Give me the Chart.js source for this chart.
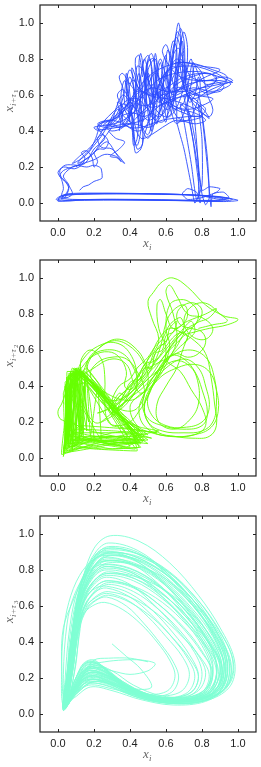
<!DOCTYPE html>
<html>
<head>
<meta charset="utf-8">
<script src="https://cdn.jsdelivr.net/npm/chart.js@4.4.1/dist/chart.umd.min.js"></script>
<style>
  html, body { margin: 0; padding: 0; background: #fff; }
  .panel { position: absolute; left: 0; width: 261px; height: 255px; }
</style>
</head>
<body>
<div class="panel" style="top:0px"><canvas id="chart1" width="261" height="255"></canvas></div>
<div class="panel" style="top:255px"><canvas id="chart2" width="261" height="255"></canvas></div>
<div class="panel" style="top:511px"><canvas id="chart3" width="261" height="255"></canvas></div>
<script>
// tick labels shared by every panel
const tickValues = [0.0, 0.2, 0.4, 0.6, 0.8, 1.0];
const axisMin = -0.1;
const axisMax = 1.1;
const yTitles = ["1", "2", "3"];

// panel 1: x_i vs x_{i+tau1}
const blueLeft = [
  [0.12,0.07],[0.14,0.09],[0.17,0.1],[0.2,0.12],[0.23,0.13],[0.245,0.14],[0.24,0.19],[0.23,0.2],[0.2,0.21],
  [0.16,0.2],[0.1,0.21],[0.04,0.21],[0.01,0.18],[0.02,0.14],[0.05,0.11],[0.07,0.08],[0.08,0.05],[0.05,0.03],
  [0.02,0.04],[0.03,0.08],[0.02,0.13],[0.0,0.17],[0.03,0.2],[0.09,0.19],[0.13,0.21],[0.15,0.25],[0.13,0.28],
  [0.16,0.29],[0.19,0.25],[0.2,0.2],[0.22,0.23],[0.2,0.28],[0.23,0.3],[0.26,0.3],[0.28,0.34],[0.25,0.38],
  [0.22,0.36],[0.24,0.31],[0.3,0.3],[0.35,0.23],[0.32,0.26],[0.26,0.27],[0.2,0.24],[0.14,0.22],[0.08,0.2],
  [0.03,0.18],[0.01,0.15],[0.04,0.12],[0.06,0.08],[0.04,0.03]
];
const blueBand = [
  [0.1,0.2],[0.15,0.24],[0.2,0.28],[0.24,0.34],[0.27,0.38],[0.3,0.42],[0.34,0.46],[0.36,0.5],[0.33,0.52],
  [0.3,0.48],[0.27,0.42],[0.24,0.37],[0.2,0.32],[0.16,0.27],[0.12,0.24],[0.08,0.22],[0.12,0.26],[0.17,0.3],
  [0.22,0.36],[0.26,0.42],[0.3,0.44],[0.34,0.42],[0.38,0.45],[0.4,0.52],[0.36,0.55],[0.3,0.5],[0.26,0.46],
  [0.23,0.42],[0.21,0.36],[0.18,0.3],[0.14,0.26],[0.11,0.22],[0.18,0.26],[0.27,0.34],[0.32,0.28],[0.37,0.22],
  [0.33,0.25],[0.29,0.26],[0.34,0.3],[0.37,0.34],[0.32,0.36],[0.28,0.4]
];
const blueBottom = [
  [0.04,0.03],[0.0,0.02],[0.02,0.04],[0.07,0.045],[0.15,0.05],[0.35,0.052],[0.55,0.05],[0.75,0.045],
  [0.9,0.035],[0.97,0.02],[0.9,0.01],[0.7,0.015],[0.45,0.02],[0.2,0.02],[0.06,0.015],[0.0,0.01],
  [0.01,0.03],[0.06,0.045],[0.2,0.05],[0.45,0.05],[0.7,0.045],[0.88,0.035],[1.0,0.015],[0.92,0.008],
  [0.7,0.013],[0.4,0.018],[0.15,0.018],[0.04,0.01],[-0.01,0.02],[0.03,0.045],[0.1,0.05],[0.3,0.053],
  [0.6,0.05],[0.82,0.04],[0.95,0.025],[0.88,0.015],[0.6,0.017],[0.3,0.02],[0.08,0.02],[0.02,0.03],
  [0.05,0.05],[0.2,0.055],[0.5,0.052],[0.72,0.046],[0.84,0.036],[0.93,0.02],[0.85,0.012],[0.6,0.014],
  [0.3,0.016],[0.1,0.015],[0.02,0.02],[0.05,0.06],[0.06,0.1],[0.03,0.15],[0.08,0.2],[0.15,0.22],
  [0.2,0.3],[0.26,0.36],[0.22,0.42],[0.25,0.45],[0.32,0.47],[0.36,0.53],[0.33,0.56],[0.35,0.5],[0.4,0.45]
];
const blueDense = [
  [0.4,0.45],[0.38,0.62],[0.4,0.7],[0.43,0.58],[0.42,0.42],[0.44,0.3],[0.47,0.33],[0.46,0.55],[0.45,0.78],
  [0.46,0.83],[0.48,0.7],[0.5,0.5],[0.52,0.4],[0.53,0.6],[0.54,0.83],[0.56,0.7],[0.58,0.5],[0.6,0.45],
  [0.62,0.62],[0.65,0.9],[0.67,1.0],[0.69,0.85],[0.7,0.65],[0.75,0.58],[0.85,0.63],[0.95,0.67],[0.97,0.67],
  [0.9,0.7],[0.78,0.73],[0.65,0.72],[0.55,0.68],[0.48,0.6],[0.42,0.55],[0.35,0.5],[0.3,0.46],[0.23,0.44],
  [0.22,0.41],[0.33,0.42],[0.42,0.44],[0.5,0.42],[0.55,0.45],[0.6,0.55],[0.63,0.75],[0.66,0.95],[0.68,0.92],
  [0.68,0.75],[0.72,0.6],[0.8,0.53],[0.84,0.47],[0.8,0.5],[0.7,0.55],[0.6,0.58],[0.5,0.6],[0.44,0.65],
  [0.4,0.74],[0.38,0.66],[0.41,0.55],[0.47,0.5],[0.52,0.56],[0.55,0.75],[0.57,0.8],[0.6,0.7],[0.64,0.6],
  [0.7,0.68],[0.72,0.85],[0.7,0.95],[0.68,0.88],[0.66,0.7],[0.62,0.52],[0.58,0.45],[0.52,0.48],[0.48,0.62],
  [0.5,0.78],[0.53,0.8],[0.55,0.62],[0.58,0.55],[0.7,0.6],[0.85,0.66],[0.93,0.68],[0.88,0.72],[0.75,0.76],
  [0.62,0.74],[0.56,0.65],[0.52,0.5],[0.48,0.38],[0.46,0.3],[0.43,0.28],[0.42,0.4],[0.4,0.55],[0.36,0.6],
  [0.32,0.52],[0.3,0.45],[0.27,0.42],[0.3,0.4],[0.36,0.42],[0.4,0.48],[0.43,0.65],[0.44,0.76],[0.47,0.74],
  [0.5,0.6],[0.56,0.5],[0.62,0.48],[0.68,0.58],[0.72,0.75],[0.74,0.8],[0.76,0.7],[0.8,0.62],[0.9,0.62],
  [0.92,0.65],[0.85,0.68],[0.72,0.66],[0.64,0.62],[0.6,0.66],[0.62,0.8],[0.64,0.9],[0.66,0.85],[0.65,0.68],
  [0.6,0.52],[0.56,0.48],[0.5,0.52],[0.44,0.58],[0.37,0.56],[0.34,0.48],[0.38,0.43],[0.45,0.4],[0.5,0.45],
  [0.52,0.7],[0.51,0.8],[0.49,0.76],[0.5,0.62],[0.57,0.6],[0.7,0.64],[0.82,0.7],[0.9,0.74],[0.8,0.76],
  [0.66,0.78],[0.6,0.72],[0.58,0.6],[0.62,0.55],[0.72,0.52],[0.82,0.55],[0.86,0.58],[0.76,0.6],[0.66,0.64],
  [0.66,0.5]
];
const blueDense2 = [
  [0.45,0.42],[0.43,0.6],[0.45,0.72],[0.47,0.6],[0.46,0.45],[0.5,0.38],[0.53,0.5],[0.55,0.7],[0.57,0.78],
  [0.59,0.62],[0.6,0.48],[0.63,0.5],[0.65,0.7],[0.66,0.88],[0.68,0.97],[0.7,0.9],[0.71,0.72],[0.74,0.62],
  [0.82,0.6],[0.9,0.64],[0.94,0.7],[0.86,0.74],[0.72,0.78],[0.6,0.76],[0.5,0.7],[0.42,0.6],[0.36,0.52],
  [0.3,0.47],[0.25,0.43],[0.31,0.44],[0.38,0.47],[0.43,0.52],[0.46,0.7],[0.48,0.8],[0.5,0.72],[0.51,0.55],
  [0.54,0.46],[0.57,0.52],[0.59,0.72],[0.61,0.85],[0.63,0.78],[0.62,0.6],[0.65,0.52],[0.7,0.56],[0.73,0.7],
  [0.75,0.78],[0.78,0.72],[0.82,0.66],[0.88,0.68],[0.84,0.72],[0.74,0.7],[0.66,0.66],[0.6,0.6],[0.56,0.56],
  [0.52,0.62],[0.49,0.72],[0.47,0.65],[0.45,0.5],[0.44,0.36],[0.42,0.32],[0.41,0.42],[0.38,0.5],[0.35,0.55],
  [0.33,0.6],[0.36,0.63],[0.4,0.58],[0.48,0.54],[0.56,0.58],[0.64,0.7],[0.68,0.8],[0.7,0.75],[0.72,0.62],
  [0.78,0.56],[0.82,0.52],[0.78,0.48],[0.7,0.5],[0.62,0.54],[0.55,0.6],[0.5,0.68],[0.47,0.76],[0.5,0.82],
  [0.52,0.76],[0.54,0.64],[0.58,0.58],[0.66,0.6],[0.75,0.64],[0.86,0.62],[0.96,0.66],[0.9,0.68],[0.78,0.68],
  [0.68,0.7],[0.62,0.76],[0.58,0.84],[0.6,0.88],[0.62,0.82],[0.64,0.66],[0.68,0.62],[0.7,0.72],[0.66,0.8],
  [0.6,0.7],[0.54,0.55],[0.5,0.48],[0.44,0.45],[0.38,0.44],[0.32,0.43],[0.26,0.42],[0.22,0.44],[0.28,0.46],
  [0.34,0.45],[0.4,0.42],[0.46,0.42],[0.52,0.44],[0.58,0.46],[0.64,0.47],[0.72,0.48],[0.8,0.48],[0.74,0.46],
  [0.66,0.45]
];
const blueDense3 = [
  [0.36,0.45],[0.35,0.6],[0.37,0.68],[0.39,0.6],[0.4,0.48],[0.42,0.62],[0.41,0.75],[0.43,0.7],[0.44,0.55],
  [0.47,0.45],[0.49,0.58],[0.5,0.72],[0.52,0.66],[0.53,0.52],[0.55,0.44],[0.57,0.6],[0.58,0.76],[0.6,0.82],
  [0.61,0.68],[0.63,0.56],[0.66,0.62],[0.67,0.8],[0.69,0.9],[0.7,0.8],[0.71,0.66],[0.73,0.56],[0.76,0.6],
  [0.78,0.7],[0.79,0.64],[0.76,0.52],[0.72,0.46],[0.66,0.48],[0.62,0.58],[0.58,0.66],[0.54,0.72],[0.5,0.66],
  [0.46,0.58],[0.42,0.5],[0.38,0.52],[0.36,0.64],[0.34,0.7],[0.36,0.72],[0.4,0.66],[0.44,0.62],[0.48,0.66],
  [0.5,0.8],[0.52,0.83],[0.54,0.76],[0.56,0.6],[0.6,0.52],[0.64,0.55],[0.66,0.68],[0.68,0.84],[0.66,0.92],
  [0.64,0.86],[0.62,0.72],[0.6,0.62],[0.56,0.68],[0.54,0.8],[0.5,0.74],[0.48,0.56],[0.46,0.4],[0.44,0.32],
  [0.42,0.36],[0.4,0.6],[0.38,0.72],[0.37,0.62],[0.33,0.5],[0.28,0.44],[0.2,0.42],[0.24,0.4],[0.32,0.46],
  [0.4,0.56],[0.46,0.62],[0.52,0.6],[0.6,0.64],[0.7,0.7],[0.8,0.72],[0.88,0.7],[0.84,0.64],[0.74,0.6],
  [0.64,0.58],[0.56,0.54],[0.5,0.54],[0.44,0.7],[0.43,0.8],[0.45,0.82],[0.47,0.7]
];
const blueDense4 = [
  [0.34,0.4],[0.36,0.5],[0.4,0.56],[0.44,0.5],[0.47,0.4],[0.5,0.36],[0.53,0.42],[0.55,0.56],[0.56,0.66],
  [0.6,0.6],[0.63,0.5],[0.66,0.44],[0.7,0.5],[0.74,0.66],[0.76,0.76],[0.8,0.72],[0.83,0.6],[0.86,0.52],
  [0.84,0.48],[0.78,0.52],[0.72,0.6],[0.68,0.7],[0.64,0.76],[0.58,0.7],[0.54,0.6],[0.5,0.54],[0.46,0.5],
  [0.4,0.44],[0.34,0.42],[0.28,0.44],[0.34,0.48],[0.42,0.5],[0.48,0.48],[0.54,0.52],[0.6,0.56],[0.68,0.52],
  [0.76,0.5],[0.82,0.46],[0.76,0.44],[0.66,0.46],[0.58,0.42],[0.52,0.38],[0.46,0.36],[0.42,0.46],[0.39,0.58],
  [0.41,0.68],[0.44,0.66],[0.46,0.52],[0.5,0.46],[0.56,0.5],[0.62,0.66],[0.64,0.82],[0.67,0.86],[0.7,0.78],
  [0.74,0.7],[0.82,0.68],[0.92,0.7],[0.97,0.68],[0.9,0.66],[0.8,0.64],[0.7,0.62],[0.6,0.62],[0.52,0.64],
  [0.46,0.6],[0.4,0.5],[0.36,0.44]
];
const blueDrops = [
  [0.66,0.5],[0.66,0.45],[0.7,0.3],[0.74,0.1],[0.76,0.0],[0.78,0.04],[0.78,0.2],[0.76,0.45],[0.74,0.58],
  [0.7,0.6],[0.72,0.5],[0.76,0.3],[0.8,0.05],[0.82,-0.01],[0.84,0.03],[0.83,0.25],[0.8,0.5],[0.78,0.6],
  [0.74,0.62],[0.72,0.55],[0.75,0.35],[0.78,0.12],[0.79,0.0],[0.77,0.06],[0.72,0.08],[0.69,0.05],[0.72,0.02],
  [0.8,0.03],[0.88,0.06],[0.9,0.08],[0.84,0.09],[0.8,0.07],[0.77,0.3],[0.73,0.5],[0.68,0.55],[0.7,0.45],
  [0.74,0.22],[0.77,0.02],[0.8,0.1],[0.8,0.35],[0.78,0.55],[0.8,0.48],[0.83,0.2],[0.85,-0.02],[0.86,0.05],
  [0.92,0.06],[0.95,0.03],[0.9,0.02],[0.8,0.04]
];

// panel 2: x_i vs x_{i+tau2}
const greenTriangle = [
  [0.03,0.02],[0.06,0.3],[0.1,0.48],[0.25,0.3],[0.44,0.1],[0.2,0.12],[0.04,0.05],[0.05,0.42],[0.12,0.5],
  [0.3,0.28],[0.46,0.08],[0.25,0.09],[0.05,0.04],[0.08,0.45],[0.14,0.47],[0.28,0.3],[0.42,0.15],[0.3,0.14],
  [0.06,0.08],[0.04,0.38],[0.09,0.5],[0.22,0.36],[0.4,0.06],[0.15,0.1],[0.03,0.03],[0.07,0.35],[0.13,0.46],
  [0.26,0.32],[0.45,0.12],[0.35,0.1],[0.08,0.1],[0.06,0.47],[0.16,0.44],[0.32,0.25],[0.48,0.1],[0.28,0.12],
  [0.04,0.06],[0.05,0.28],[0.11,0.49],[0.24,0.33],[0.43,0.05],[0.2,0.08],[0.02,0.02],[0.04,0.22],[0.07,0.42],
  [0.11,0.47],[0.2,0.38],[0.34,0.22],[0.46,0.11],[0.38,0.06],[0.12,0.12],[0.05,0.08],[0.06,0.34],[0.09,0.49],
  [0.15,0.46],[0.27,0.31],[0.41,0.16],[0.48,0.1],[0.3,0.07],[0.08,0.14],[0.04,0.3],[0.05,0.45],[0.13,0.48],
  [0.23,0.37],[0.36,0.2],[0.44,0.08],[0.22,0.1],[0.06,0.06],[0.07,0.25],[0.1,0.44],[0.16,0.5],[0.29,0.33],
  [0.4,0.19],[0.5,0.13],[0.32,0.15],[0.1,0.16],[0.04,0.1],[0.03,0.36],[0.08,0.5],[0.18,0.42],[0.31,0.27],
  [0.43,0.14],[0.35,0.1],[0.14,0.08],[0.05,0.03],[0.06,0.28],[0.12,0.45],[0.19,0.4],[0.26,0.33],[0.39,0.12],
  [0.46,0.06],[0.25,0.05],[0.09,0.07],[0.05,0.18],[0.04,0.4],[0.1,0.5],[0.21,0.4],[0.33,0.24],[0.45,0.17],
  [0.42,0.1],[0.18,0.15],[0.07,0.2],[0.06,0.46],[0.14,0.44],[0.24,0.35],[0.37,0.18],[0.5,0.1],[0.28,0.1],
  [0.07,0.1],[0.03,0.05],[0.08,0.18],[0.1,0.4],[0.15,0.42],[0.3,0.18],[0.55,0.14],[0.4,0.16],[0.12,0.18],
  [0.06,0.12],[0.09,0.3],[0.1,0.46]
];
const greenTriangle2 = [
  [0.04,0.08],[0.06,0.44],[0.12,0.48],[0.26,0.34],[0.44,0.12],[0.36,0.12],[0.07,0.12],[0.05,0.32],[0.08,0.47],
  [0.17,0.44],[0.3,0.3],[0.47,0.14],[0.4,0.08],[0.1,0.11],[0.04,0.04],[0.07,0.38],[0.1,0.49],[0.22,0.39],
  [0.35,0.23],[0.45,0.09],[0.28,0.08],[0.08,0.05],[0.05,0.25],[0.09,0.46],[0.15,0.48],[0.27,0.35],[0.38,0.2],
  [0.46,0.15],[0.33,0.12],[0.06,0.1],[0.04,0.42],[0.11,0.5],[0.2,0.41],[0.32,0.26],[0.44,0.16],[0.48,0.12],
  [0.22,0.06],[0.03,0.03],[0.06,0.2],[0.08,0.4],[0.13,0.47],[0.25,0.36],[0.39,0.18],[0.45,0.06],[0.3,0.05],
  [0.1,0.09],[0.07,0.3],[0.07,0.48],[0.14,0.46],[0.23,0.38],[0.34,0.25],[0.46,0.13],[0.52,0.11],[0.36,0.14],
  [0.12,0.14],[0.05,0.14],[0.05,0.36],[0.09,0.47],[0.19,0.43],[0.29,0.31],[0.41,0.15],[0.44,0.04],[0.2,0.05],
  [0.05,0.07],[0.08,0.35],[0.12,0.49],[0.24,0.37],[0.37,0.21],[0.47,0.09],[0.34,0.07],[0.09,0.12],[0.06,0.22],
  [0.05,0.48],[0.16,0.47],[0.28,0.33],[0.42,0.13],[0.5,0.08],[0.26,0.11],[0.07,0.15],[0.04,0.34],[0.1,0.45],
  [0.18,0.38],[0.33,0.22],[0.46,0.17],[0.56,0.15],[0.4,0.12],[0.15,0.12],[0.06,0.04],[0.08,0.05],[0.1,0.45],
  [0.12,0.1],[0.13,0.48],[0.14,0.12],[0.09,0.42],[0.11,0.08],[0.15,0.44],[0.13,0.15],[0.07,0.46],[0.06,0.08],
  [0.2,0.1],[0.16,0.45],[0.18,0.12],[0.22,0.4],[0.24,0.1],[0.12,0.3],[0.06,0.05]
];
const greenLeft = [
  [0.04,0.05],[0.05,0.45],[0.06,0.06],[0.07,0.47],[0.08,0.04],[0.09,0.48],[0.1,0.07],[0.11,0.46],[0.12,0.1],
  [0.12,0.49],[0.13,0.12],[0.08,0.44],[0.05,0.1],[0.04,0.4],[0.07,0.08],[0.1,0.5],[0.14,0.14],[0.15,0.46],
  [0.16,0.15],[0.11,0.42],[0.06,0.12],[0.05,0.38],[0.09,0.06],[0.13,0.45],[0.17,0.2],[0.14,0.4],[0.08,0.1]
];
const greenArcs = [
  [0.14,0.48],[0.18,0.56],[0.26,0.6],[0.36,0.58],[0.42,0.5],[0.44,0.42],[0.4,0.36],[0.3,0.32],[0.2,0.4],
  [0.16,0.48],[0.2,0.58],[0.3,0.65],[0.4,0.62],[0.48,0.52],[0.5,0.42],[0.46,0.35],[0.38,0.32],[0.24,0.38],
  [0.18,0.46],[0.22,0.53],[0.3,0.56],[0.38,0.55],[0.44,0.48],[0.48,0.38],[0.46,0.3],[0.4,0.26],[0.3,0.3],
  [0.22,0.42],[0.16,0.52],[0.24,0.62],[0.34,0.66],[0.44,0.6],[0.5,0.5]
];
const greenBand = [
  [0.28,0.26],[0.34,0.36],[0.38,0.34],[0.42,0.42],[0.46,0.44],[0.48,0.5],[0.52,0.5],[0.54,0.58],[0.58,0.6],
  [0.6,0.68],[0.64,0.7],[0.66,0.76],[0.62,0.72],[0.6,0.64],[0.56,0.62],[0.52,0.54],[0.48,0.52],[0.44,0.44],
  [0.4,0.42],[0.36,0.34],[0.32,0.3],[0.3,0.32],[0.34,0.4],[0.4,0.44],[0.44,0.5],[0.5,0.56],[0.54,0.62],
  [0.58,0.66],[0.62,0.74],[0.68,0.78],[0.7,0.72],[0.66,0.66],[0.6,0.58],[0.56,0.52],[0.52,0.46],[0.46,0.4],
  [0.42,0.36],[0.36,0.3],[0.3,0.24],[0.33,0.33],[0.38,0.38],[0.45,0.46],[0.5,0.52],[0.55,0.55],[0.6,0.62],
  [0.65,0.68],[0.7,0.7],[0.72,0.66],[0.68,0.62],[0.62,0.56],[0.57,0.5],[0.5,0.44],[0.44,0.38],[0.38,0.3],
  [0.33,0.26],[0.37,0.36],[0.43,0.42],[0.48,0.46],[0.53,0.52],[0.58,0.58],[0.63,0.64],[0.68,0.7],[0.74,0.76],
  [0.76,0.7],[0.7,0.64]
];
const greenLoops = [
  [0.1,0.46],[0.14,0.55],[0.22,0.62],[0.32,0.64],[0.4,0.58],[0.44,0.45],[0.42,0.35],[0.36,0.3],[0.3,0.26],
  [0.35,0.32],[0.42,0.4],[0.48,0.48],[0.5,0.55],[0.55,0.6],[0.6,0.65],[0.64,0.7],[0.7,0.75],[0.72,0.8],
  [0.7,0.85],[0.64,0.82],[0.6,0.75],[0.57,0.62],[0.52,0.5],[0.47,0.42],[0.4,0.36],[0.35,0.28],[0.28,0.22],
  [0.2,0.2],[0.12,0.35],[0.1,0.44],[0.13,0.5],[0.2,0.57],[0.28,0.59],[0.34,0.56],[0.38,0.48],[0.37,0.4],
  [0.4,0.38],[0.45,0.42],[0.5,0.5],[0.53,0.58],[0.56,0.66],[0.52,0.78],[0.5,0.87],[0.53,0.92],[0.58,0.98],
  [0.64,1.0],[0.72,0.95],[0.82,0.85],[0.92,0.79],[1.0,0.77],[0.94,0.74],[0.84,0.72],[0.76,0.7],[0.7,0.68],
  [0.66,0.62],[0.62,0.56],[0.58,0.48],[0.54,0.42],[0.5,0.35],[0.48,0.28],[0.5,0.2],[0.56,0.14],[0.65,0.12],
  [0.75,0.11],[0.84,0.12],[0.88,0.18],[0.87,0.3],[0.85,0.45],[0.82,0.58],[0.76,0.65],[0.68,0.7],[0.62,0.72],
  [0.56,0.66],[0.52,0.58],[0.47,0.5],[0.43,0.44],[0.38,0.38],[0.33,0.33],[0.27,0.27],[0.22,0.25],[0.3,0.28],
  [0.38,0.34],[0.44,0.4],[0.5,0.47],[0.56,0.53],[0.62,0.6],[0.68,0.66],[0.72,0.72],[0.78,0.76],[0.8,0.82],
  [0.76,0.86],[0.7,0.85],[0.66,0.8],[0.68,0.74],[0.74,0.72],[0.8,0.7],[0.82,0.64],[0.78,0.58],[0.72,0.56],
  [0.66,0.58],[0.6,0.55],[0.55,0.48],[0.5,0.4],[0.47,0.3],[0.5,0.22],[0.58,0.18],[0.7,0.16],[0.8,0.18],
  [0.83,0.25],[0.8,0.38],[0.76,0.48],[0.7,0.55],[0.63,0.57],[0.58,0.52],[0.54,0.44],[0.5,0.34],[0.45,0.26],
  [0.4,0.2],[0.33,0.18],[0.28,0.2],[0.26,0.3],[0.26,0.45],[0.24,0.55],[0.18,0.6],[0.13,0.55],[0.12,0.47],
  [0.06,0.4],[0.02,0.3],[0.0,0.26],[0.01,0.22],[0.04,0.2],[0.06,0.14],[0.04,0.06],[0.03,0.01],[0.06,0.2],
  [0.1,0.42],[0.2,0.5],[0.3,0.55],[0.38,0.52],[0.42,0.42],[0.46,0.36],[0.52,0.42],[0.58,0.5],[0.62,0.62],
  [0.6,0.72],[0.62,0.85],[0.68,0.88],[0.74,0.86],[0.78,0.8],[0.76,0.74],[0.7,0.7],[0.64,0.64],[0.6,0.55],
  [0.68,0.48],[0.74,0.38],[0.8,0.28],[0.82,0.18],[0.76,0.13],[0.64,0.12],[0.52,0.14],[0.44,0.18],[0.4,0.28],
  [0.44,0.34],[0.5,0.38],[0.56,0.46],[0.6,0.6],[0.56,0.72],[0.55,0.85],[0.57,0.88],[0.6,0.8],[0.64,0.72],
  [0.72,0.76],[0.82,0.8],[0.88,0.83],[0.84,0.78],[0.76,0.74],[0.7,0.62],[0.66,0.5],[0.6,0.4],[0.55,0.3],
  [0.56,0.2],[0.64,0.16],[0.72,0.2],[0.78,0.3],[0.77,0.45],[0.72,0.52],[0.65,0.54],[0.58,0.5],[0.52,0.44],
  [0.46,0.38],[0.38,0.32],[0.3,0.25],[0.24,0.2]
];
const greenRight = [
  [0.5,0.5],[0.6,0.55],[0.72,0.6],[0.82,0.56],[0.87,0.44],[0.88,0.3],[0.86,0.2],[0.8,0.15],[0.7,0.14],
  [0.58,0.15],[0.5,0.2],[0.48,0.3],[0.52,0.4],[0.6,0.5],[0.7,0.55],[0.78,0.5],[0.82,0.4],[0.84,0.28],
  [0.8,0.2],[0.7,0.17],[0.6,0.18],[0.52,0.24],[0.5,0.34],[0.56,0.44],[0.66,0.5],[0.76,0.52],[0.84,0.48],
  [0.88,0.38],[0.89,0.26],[0.85,0.17],[0.76,0.13],[0.62,0.12],[0.5,0.16],[0.45,0.25],[0.48,0.36],[0.55,0.48],
  [0.62,0.56],[0.66,0.66],[0.64,0.8],[0.6,0.92],[0.62,0.96],[0.66,0.9],[0.72,0.8],[0.8,0.78],[0.86,0.72],
  [0.82,0.66],[0.74,0.68],[0.7,0.76],[0.74,0.84],[0.82,0.86],[0.9,0.8],[0.94,0.76],[0.86,0.74],[0.78,0.72]
];

// panel 3: x_i vs x_{i+tau3}
const aquaLoops = [
  [0.3,0.39],[0.38,0.32],[0.46,0.25],[0.52,0.15],[0.42,0.14],[0.28,0.18],[0.16,0.19],[0.08,0.1],
  [0.03,0.03],[0.05,0.2],[0.08,0.45],[0.13,0.72],[0.2,0.92],[0.29,0.99],[0.45,0.96],[0.62,0.84],[0.78,0.66],[0.9,0.48],[0.98,0.3],[0.96,0.16],[0.84,0.08],[0.62,0.06],[0.42,0.1],[0.26,0.16],[0.15,0.17],[0.08,0.1],
  [0.04,0.05],[0.06,0.24],[0.09,0.48],[0.14,0.72],[0.21,0.88],[0.28,0.93],[0.44,0.9],[0.6,0.78],[0.74,0.62],[0.86,0.45],[0.93,0.3],[0.91,0.16],[0.8,0.09],[0.6,0.07],[0.42,0.12],[0.28,0.2],[0.16,0.22],[0.1,0.14],
  [0.05,0.06],[0.07,0.26],[0.1,0.5],[0.15,0.7],[0.22,0.84],[0.3,0.88],[0.45,0.84],[0.6,0.72],[0.73,0.57],[0.84,0.42],[0.9,0.28],[0.87,0.15],[0.76,0.08],[0.58,0.08],[0.4,0.14],[0.26,0.22],[0.17,0.24],[0.1,0.16],
  [0.03,0.02],[0.06,0.22],[0.09,0.45],[0.13,0.64],[0.2,0.78],[0.27,0.82],[0.42,0.78],[0.56,0.67],[0.7,0.52],[0.8,0.38],[0.85,0.25],[0.82,0.13],[0.7,0.07],[0.52,0.08],[0.36,0.15],[0.24,0.2],[0.15,0.2],[0.08,0.12],
  [0.04,0.04],[0.07,0.25],[0.1,0.46],[0.14,0.62],[0.2,0.72],[0.27,0.76],[0.4,0.72],[0.54,0.6],[0.66,0.47],[0.76,0.34],[0.8,0.22],[0.76,0.12],[0.64,0.08],[0.48,0.1],[0.34,0.18],[0.22,0.26],[0.14,0.24],[0.08,0.14],
  [0.05,0.05],[0.08,0.27],[0.11,0.48],[0.15,0.61],[0.21,0.68],[0.27,0.7],[0.4,0.65],[0.52,0.55],[0.63,0.43],[0.72,0.31],[0.76,0.21],[0.72,0.12],[0.6,0.09],[0.45,0.12],[0.32,0.2],[0.21,0.28],[0.14,0.26],[0.09,0.16],
  [0.06,0.08],[0.09,0.3],[0.12,0.48],[0.16,0.58],[0.21,0.63],[0.27,0.65],[0.38,0.6],[0.48,0.5],[0.57,0.39],[0.64,0.29],[0.67,0.2],[0.63,0.12],[0.52,0.1],[0.4,0.14],[0.29,0.22],[0.2,0.29],[0.14,0.27],[0.09,0.18],
  [0.03,0.03],[0.05,0.22],[0.07,0.46],[0.12,0.7],[0.19,0.86],[0.27,0.91],[0.44,0.89],[0.62,0.79],[0.78,0.63],[0.9,0.46],[0.97,0.3],[0.95,0.17],[0.85,0.1],[0.66,0.08],[0.46,0.1],[0.3,0.14],[0.17,0.16],[0.09,0.1],
  [0.04,0.04],[0.06,0.24],[0.08,0.47],[0.12,0.67],[0.19,0.81],[0.26,0.86],[0.42,0.84],[0.6,0.74],[0.76,0.59],[0.88,0.43],[0.94,0.28],[0.92,0.15],[0.82,0.08],[0.62,0.07],[0.44,0.11],[0.3,0.17],[0.18,0.19],[0.1,0.12],
  [0.03,0.03],[0.06,0.23],[0.09,0.46],[0.13,0.63],[0.19,0.75],[0.26,0.8],[0.42,0.77],[0.58,0.67],[0.72,0.53],[0.84,0.39],[0.9,0.26],[0.88,0.14],[0.78,0.08],[0.6,0.08],[0.42,0.13],[0.28,0.2],[0.17,0.23],[0.1,0.15]
];
const aquaLoopsB = [
  [0.05,0.05],[0.08,0.26],[0.1,0.5],[0.14,0.72],[0.2,0.85],[0.25,0.9],[0.4,0.87],[0.56,0.75],[0.7,0.6],[0.81,0.44],[0.88,0.29],[0.86,0.16],[0.76,0.1],[0.58,0.1],[0.42,0.16],[0.3,0.24],[0.2,0.27],[0.12,0.18],
  [0.04,0.03],[0.06,0.22],[0.08,0.44],[0.12,0.64],[0.2,0.79],[0.28,0.84],[0.46,0.82],[0.64,0.72],[0.8,0.56],[0.9,0.41],[0.96,0.27],[0.94,0.15],[0.84,0.09],[0.66,0.07],[0.48,0.1],[0.34,0.15],[0.2,0.18],[0.11,0.12],
  [0.05,0.06],[0.08,0.28],[0.1,0.48],[0.14,0.62],[0.2,0.7],[0.27,0.74],[0.42,0.71],[0.58,0.62],[0.72,0.49],[0.83,0.36],[0.88,0.24],[0.85,0.13],[0.74,0.08],[0.56,0.09],[0.4,0.15],[0.27,0.23],[0.17,0.25],[0.1,0.16],
  [0.06,0.06],[0.09,0.3],[0.12,0.5],[0.16,0.6],[0.22,0.66],[0.28,0.68],[0.42,0.64],[0.56,0.55],[0.68,0.44],[0.78,0.33],[0.84,0.22],[0.8,0.12],[0.68,0.08],[0.52,0.1],[0.38,0.16],[0.26,0.25],[0.18,0.27],[0.11,0.18],
  [0.04,0.04],[0.06,0.25],[0.09,0.5],[0.14,0.76],[0.21,0.9],[0.28,0.95],[0.44,0.91],[0.6,0.79],[0.74,0.63],[0.85,0.46],[0.92,0.3],[0.9,0.17],[0.8,0.1],[0.6,0.08],[0.44,0.12],[0.3,0.19],[0.18,0.21],[0.1,0.13],
  [0.03,0.02],[0.05,0.2],[0.08,0.42],[0.12,0.6],[0.19,0.73],[0.27,0.78],[0.44,0.76],[0.62,0.67],[0.77,0.53],[0.88,0.38],[0.93,0.25],[0.9,0.13],[0.8,0.07],[0.62,0.06],[0.44,0.1],[0.3,0.16],[0.18,0.19],[0.09,0.1],
  [0.05,0.05],[0.08,0.27],[0.11,0.47],[0.15,0.6],[0.21,0.68],[0.28,0.72],[0.42,0.68],[0.56,0.58],[0.68,0.46],[0.77,0.34],[0.82,0.23],[0.78,0.13],[0.66,0.09],[0.5,0.11],[0.36,0.18],[0.24,0.27],[0.16,0.28],[0.1,0.17],
  [0.04,0.05],[0.07,0.25],[0.1,0.48],[0.14,0.69],[0.2,0.82],[0.26,0.87],[0.4,0.84],[0.55,0.73],[0.68,0.59],[0.79,0.43],[0.86,0.28],[0.83,0.15],[0.72,0.09],[0.55,0.09],[0.4,0.15],[0.28,0.23],[0.18,0.26],[0.11,0.17],
  [0.03,0.03],[0.05,0.21],[0.08,0.46],[0.12,0.7],[0.19,0.86],[0.26,0.92],[0.42,0.9],[0.6,0.8],[0.76,0.64],[0.88,0.46],[0.95,0.3],[0.93,0.15],[0.82,0.07],[0.64,0.05],[0.46,0.08],[0.3,0.13],[0.18,0.15],[0.09,0.09],
  [0.06,0.07],[0.09,0.3],[0.12,0.5],[0.16,0.59],[0.22,0.64],[0.28,0.66],[0.4,0.62],[0.53,0.53],[0.64,0.42],[0.73,0.31],[0.78,0.21],[0.74,0.12],[0.62,0.09],[0.47,0.11],[0.34,0.18],[0.23,0.28],[0.16,0.29],[0.1,0.2],
  [0.04,0.04],[0.02,0.3],[0.03,0.48],[0.08,0.62],[0.16,0.78],[0.25,0.85],[0.42,0.83],[0.6,0.72],[0.74,0.58],[0.85,0.42],[0.91,0.27],[0.88,0.14],[0.77,0.08],[0.58,0.07],[0.4,0.12],[0.26,0.19],[0.16,0.21],[0.07,0.08]
];
const aquaLoopsC = [
  [0.04,0.06],[0.06,0.26],[0.09,0.5],[0.13,0.7],[0.2,0.84],[0.27,0.89],[0.43,0.86],[0.6,0.76],[0.75,0.6],[0.87,0.44],[0.93,0.29],[0.91,0.15],[0.8,0.08],[0.61,0.07],[0.43,0.11],[0.29,0.18],[0.18,0.21],[0.1,0.14],
  [0.03,0.04],[0.05,0.23],[0.08,0.47],[0.12,0.69],[0.19,0.84],[0.27,0.9],[0.44,0.87],[0.61,0.77],[0.77,0.61],[0.89,0.44],[0.96,0.29],[0.94,0.16],[0.83,0.08],[0.64,0.06],[0.45,0.09],[0.3,0.15],[0.18,0.17],[0.09,0.11],
  [0.05,0.05],[0.07,0.26],[0.1,0.48],[0.14,0.66],[0.2,0.77],[0.27,0.81],[0.42,0.78],[0.57,0.68],[0.71,0.54],[0.82,0.4],[0.88,0.27],[0.85,0.14],[0.75,0.09],[0.57,0.09],[0.4,0.14],[0.27,0.22],[0.17,0.24],[0.1,0.15],
  [0.04,0.03],[0.07,0.24],[0.1,0.47],[0.14,0.63],[0.2,0.73],[0.27,0.77],[0.42,0.74],[0.58,0.64],[0.72,0.51],[0.83,0.37],[0.89,0.25],[0.86,0.13],[0.75,0.08],[0.57,0.08],[0.41,0.13],[0.28,0.21],[0.17,0.24],[0.1,0.15],
  [0.05,0.06],[0.08,0.28],[0.11,0.49],[0.15,0.63],[0.21,0.71],[0.28,0.74],[0.43,0.7],[0.57,0.6],[0.7,0.48],[0.8,0.35],[0.85,0.24],[0.82,0.14],[0.7,0.09],[0.53,0.1],[0.38,0.16],[0.25,0.24],[0.16,0.26],[0.1,0.17],
  [0.03,0.02],[0.05,0.22],[0.08,0.46],[0.12,0.68],[0.18,0.83],[0.26,0.89],[0.43,0.88],[0.61,0.79],[0.77,0.64],[0.89,0.47],[0.97,0.31],[0.96,0.18],[0.86,0.1],[0.67,0.08],[0.48,0.11],[0.32,0.16],[0.19,0.18],[0.1,0.11],
  [0.06,0.07],[0.09,0.29],[0.11,0.5],[0.15,0.64],[0.21,0.7],[0.27,0.71],[0.4,0.67],[0.53,0.57],[0.64,0.45],[0.73,0.33],[0.78,0.22],[0.75,0.13],[0.64,0.09],[0.5,0.11],[0.36,0.18],[0.24,0.26],[0.16,0.27],[0.1,0.18],
  [0.04,0.04],[0.06,0.25],[0.09,0.48],[0.13,0.66],[0.2,0.8],[0.27,0.85],[0.43,0.82],[0.59,0.72],[0.74,0.57],[0.85,0.42],[0.91,0.28],[0.89,0.15],[0.79,0.09],[0.6,0.08],[0.43,0.12],[0.29,0.19],[0.18,0.22],[0.1,0.14],
  [0.05,0.05],[0.07,0.26],[0.1,0.49],[0.14,0.68],[0.21,0.8],[0.28,0.83],[0.44,0.79],[0.6,0.68],[0.74,0.54],[0.84,0.4],[0.9,0.27],[0.87,0.15],[0.77,0.09],[0.59,0.09],[0.42,0.14],[0.28,0.21],[0.17,0.23],[0.1,0.15],
  [0.04,0.04],[0.06,0.24],[0.09,0.47],[0.13,0.69],[0.2,0.86],[0.28,0.92],[0.44,0.89],[0.61,0.78],[0.76,0.62],[0.87,0.45],[0.94,0.3],[0.92,0.16],[0.81,0.09],[0.62,0.07],[0.44,0.11],[0.29,0.17],[0.17,0.19],[0.09,0.11],
  [0.05,0.06],[0.08,0.27],[0.11,0.48],[0.15,0.65],[0.21,0.75],[0.28,0.79],[0.43,0.75],[0.58,0.65],[0.71,0.52],[0.81,0.38],[0.86,0.25],[0.83,0.13],[0.72,0.08],[0.55,0.09],[0.39,0.15],[0.26,0.23],[0.16,0.25],[0.09,0.15],
  [0.04,0.03],[0.06,0.23],[0.09,0.46],[0.13,0.67],[0.2,0.82],[0.27,0.88],[0.44,0.86],[0.62,0.76],[0.78,0.6],[0.9,0.44],[0.95,0.29],[0.93,0.15],[0.82,0.08],[0.63,0.06],[0.44,0.1],[0.29,0.16],[0.17,0.18],[0.08,0.1]
];
const aquaLoopsD = [
  [0.07,0.1],[0.1,0.3],[0.12,0.45],[0.14,0.55],[0.19,0.6],[0.26,0.62],[0.36,0.58],[0.46,0.5],[0.55,0.4],[0.62,0.3],[0.65,0.21],[0.61,0.13],[0.5,0.11],[0.38,0.15],[0.28,0.23],[0.2,0.3],[0.14,0.28],[0.1,0.2],
  [0.03,0.05],[0.02,0.25],[0.03,0.45],[0.06,0.62],[0.12,0.77],[0.2,0.86],[0.3,0.9],[0.46,0.86],[0.63,0.75],[0.78,0.6],[0.89,0.44],[0.94,0.28],[0.91,0.14],[0.8,0.07],[0.6,0.06],[0.42,0.1],[0.28,0.17],[0.16,0.19],[0.08,0.1],
  [0.04,0.04],[0.03,0.22],[0.05,0.5],[0.09,0.66],[0.16,0.78],[0.24,0.83],[0.4,0.81],[0.57,0.71],[0.71,0.57],[0.82,0.42],[0.88,0.28],[0.86,0.15],[0.75,0.09],[0.57,0.08],[0.4,0.13],[0.27,0.21],[0.17,0.23],[0.1,0.15],
  [0.06,0.06],[0.1,0.28],[0.12,0.48],[0.14,0.58],[0.2,0.64],[0.27,0.67],[0.39,0.63],[0.5,0.54],[0.6,0.43],[0.69,0.32],[0.73,0.22],[0.69,0.13],[0.58,0.1],[0.45,0.12],[0.33,0.19],[0.22,0.28],[0.15,0.28],[0.09,0.18],
  [0.03,0.03],[0.04,0.2],[0.06,0.44],[0.1,0.66],[0.17,0.82],[0.25,0.88],[0.42,0.86],[0.6,0.75],[0.75,0.6],[0.86,0.44],[0.92,0.29],[0.9,0.15],[0.79,0.08],[0.6,0.07],[0.42,0.11],[0.28,0.18],[0.17,0.2],[0.09,0.12],
  [0.05,0.05],[0.08,0.26],[0.11,0.47],[0.15,0.6],[0.21,0.69],[0.28,0.73],[0.42,0.7],[0.57,0.6],[0.7,0.47],[0.8,0.34],[0.86,0.23],[0.82,0.13],[0.7,0.08],[0.53,0.09],[0.37,0.15],[0.25,0.24],[0.16,0.26],[0.1,0.16],
  [0.04,0.04],[0.06,0.24],[0.08,0.46],[0.12,0.66],[0.19,0.8],[0.26,0.85],[0.43,0.83],[0.6,0.73],[0.75,0.58],[0.86,0.43],[0.92,0.28],[0.9,0.15],[0.8,0.09],[0.61,0.08],[0.43,0.12],[0.29,0.2],[0.18,0.23],[0.1,0.14],
  [0.05,0.06],[0.07,0.27],[0.1,0.49],[0.14,0.67],[0.21,0.79],[0.28,0.82],[0.44,0.78],[0.61,0.67],[0.75,0.53],[0.85,0.39],[0.91,0.26],[0.88,0.14],[0.78,0.08],[0.6,0.08],[0.43,0.13],[0.29,0.21],[0.18,0.23],[0.1,0.14],
  [0.04,0.04],[0.07,0.25],[0.1,0.48],[0.14,0.64],[0.2,0.74],[0.27,0.78],[0.43,0.75],[0.6,0.65],[0.74,0.52],[0.85,0.38],[0.91,0.26],[0.89,0.14],[0.79,0.08],[0.6,0.07],[0.42,0.12],[0.28,0.19],[0.17,0.21],[0.08,0.12]
];
const aquaShelf = [
  [0.12,0.2],[0.18,0.27],[0.26,0.29],[0.36,0.3],[0.46,0.3],[0.54,0.28],[0.5,0.24],[0.4,0.22],[0.3,0.24],
  [0.22,0.26],[0.16,0.24],[0.14,0.22],[0.2,0.3],[0.28,0.31],[0.4,0.31],[0.5,0.29]
];

function toPoints(pairs) {
  return pairs.map(function (p) { return { x: p[0], y: p[1] }; });
}

function line(pairs, color, tension) {
  return {
    data: toPoints(pairs),
    showLine: true,
    borderColor: color,
    borderWidth: 0.9,
    pointRadius: 0,
    tension: tension,
    fill: false,
  };
}

// frame, inward ticks and the math-style axis titles
const framePlugin = {
  id: "frame",
  afterDraw(chart, args, opts) {
    const c = chart.ctx;
    const a = chart.chartArea;
    const xs = chart.scales.x;
    const ys = chart.scales.y;
    c.save();
    c.strokeStyle = "#222";
    c.lineWidth = 1.2;
    c.strokeRect(a.left, a.top, a.right - a.left, a.bottom - a.top);
    c.lineWidth = 1;
    c.beginPath();
    tickValues.forEach(function (v) {
      const px = Math.round(xs.getPixelForValue(v)) + 0.5;
      const py = Math.round(ys.getPixelForValue(v)) + 0.5;
      c.moveTo(px, a.bottom); c.lineTo(px, a.bottom - 3);
      c.moveTo(px, a.top); c.lineTo(px, a.top + 3);
      c.moveTo(a.left, py); c.lineTo(a.left + 3, py);
      c.moveTo(a.right, py); c.lineTo(a.right - 3, py);
    });
    c.stroke();

    // x title: x_i
    c.fillStyle = "#666";
    c.textBaseline = "alphabetic";
    const cx = (a.left + a.right) / 2;
    c.font = "italic 13px 'Liberation Serif', serif";
    c.fillText("x", cx - 5, a.bottom + 26);
    c.font = "italic 9px 'Liberation Serif', serif";
    c.fillText("i", cx + 1, a.bottom + 29);

    // y title: x_{i+tau_n}, rotated
    c.translate(13, (a.top + a.bottom) / 2 - 1);
    c.rotate(-Math.PI / 2);
    c.font = "italic 13px 'Liberation Serif', serif";
    c.fillText("x", 0, 0);
    c.font = "italic 9px 'Liberation Serif', serif";
    c.fillText("i+τ", 6, 3);
    c.font = "7px 'Liberation Serif', serif";
    c.fillText(opts.sub, 19, 5);
    c.restore();
  },
};

function fixX(s) { s.height = 34; s.paddingLeft = 0; s.paddingRight = 0; }
function fixY(s) { s.width = 40; s.paddingTop = 0; s.paddingBottom = 0; }
function setTicks(s) { s.ticks = tickValues.map(function (v) { return { value: v }; }); }

function makeChart(id, datasets, sub) {
  return new Chart(document.getElementById(id).getContext("2d"), {
    type: "scatter",
    data: { datasets: datasets },
    options: {
      responsive: false,
      animation: false,
      layout: { padding: { top: 5, right: 5, left: 0, bottom: 0 } },
      plugins: { legend: { display: false }, tooltip: { enabled: false }, frame: { sub: sub } },
      scales: {
        x: {
          min: axisMin, max: axisMax,
          afterBuildTicks: setTicks,
          afterFit: fixX,
          grid: { display: false, drawTicks: false },
          border: { display: false },
          ticks: {
            padding: 5, color: "#222", maxRotation: 0,
            font: { family: "'Liberation Sans', Arial, sans-serif", size: 11 },
            callback: function (v) { return Number(v).toFixed(1); },
          },
        },
        y: {
          min: axisMin, max: axisMax,
          afterBuildTicks: setTicks,
          afterFit: fixY,
          grid: { display: false, drawTicks: false },
          border: { display: false },
          ticks: {
            padding: 6, color: "#222",
            font: { family: "'Liberation Sans', Arial, sans-serif", size: 11 },
            callback: function (v) { return Number(v).toFixed(1); },
          },
        },
      },
    },
    plugins: [framePlugin],
  });
}

const blue = "#2a4bff";
const green = "#66ff00";
const aqua = "#7fffd4";

makeChart("chart1", [
  line(blueLeft, blue, 0.3),
  line(blueBand, blue, 0.3),
  line(blueBottom, blue, 0.3),
  line(blueDense, blue, 0.35),
  line(blueDense2, blue, 0.35),
  line(blueDense3, blue, 0.35),
  line(blueDense4, blue, 0.35),
  line(blueDrops, blue, 0.2),
], yTitles[0]);

makeChart("chart2", [
  line(greenTriangle, green, 0.05),
  line(greenTriangle2, green, 0.05),
  line(greenLeft, green, 0),
  line(greenArcs, green, 0.4),
  line(greenBand, green, 0.3),
  line(greenLoops, green, 0.4),
  line(greenRight, green, 0.4),
], yTitles[1]);

makeChart("chart3", [
  line(aquaLoops, aqua, 0.35),
  line(aquaLoopsB, aqua, 0.35),
  line(aquaLoopsC, aqua, 0.35),
  line(aquaLoopsD, aqua, 0.35),
  line(aquaShelf, aqua, 0.3),
], yTitles[2]);
</script>
</body>
</html>
